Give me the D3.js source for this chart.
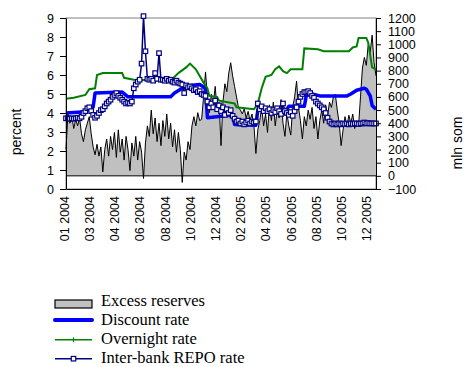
<!DOCTYPE html>
<html>
<head>
<meta charset="utf-8">
<script src="https://cdn.jsdelivr.net/npm/d3@7"></script>
<style>
  body { margin: 0; background: #fff; }
  text { font-family: "Liberation Sans", Arial, sans-serif; }
</style>
</head>
<body>
<div id="chart"></div>
<script>
// category labels shown every 13 points
const xLabels = ["01 2004", "03 2004", "04 2004", "06 2004", "08 2004", "10 2004", "12 2004",
                 "02 2005", "04 2005", "06 2005", "08 2005", "10 2005", "12 2005"];
const labelEvery = 13;

// excess reserves, mln som (right axis), one value per category
const excessReserves = [
  200, 470, 400, 450, 360, 430, 380, 440, 320, 260, 350, 400, 450, 320, 220, 160, 240, 150, 220, 30,
  200, 280, 150, 300, 200, 330, 140, 350, 180, 280, 120, 300, 200, 40, 250, 150, 300, 120, 260, 180,
  -20, 250, 380, 300, 500, 320, 440, 260, 400, 230, 420, 300, 470, 280, 400, 220, 350, 180, 330, 200,
  -50, 180, 120, 260, 200, 380, 450, 380, 480, 420, 430, 600, 790, 600, 480, 620, 540, 680, 500, 560,
  230, 560, 700, 640, 780, 860, 760, 680, 600, 520, 500, 470, 510, 440, 490, 420, 470, 380, 170, 350,
  420, 520, 380, 470, 330, 540, 420, 560, 380, 500, 440, 580, 400, 300, 480, 380, 310, 520, 600, 720,
  520, 420, 280, 450, 380, 500, 430, 520, 360, 450, 280, 420, 500, 400, 540, 460, 560, 520, 600, 620,
  500, 400, 230, 350, 450, 380, 460, 400, 470, 360, 420, 380, 600, 820, 900, 840, 1000, 940, 1070, 860, 760
];

// inter-bank REPO rate, percent, one value per category
const repoRate = [
  3.72, 3.72, 3.7, 3.72, 3.7, 3.72, 3.75, 3.72, 3.8, 4.0, 4.1, 4.25, 4.3, 4.1, 3.9, 3.75, 3.85, 4.0, 4.15, 4.2,
  4.35, 4.5, 4.6, 4.7, 4.85, 4.95, 5.05, 4.9, 4.8, 4.7, 4.6, 4.5, 4.55, 4.5, 4.6, 5.3, 5.5, 5.65, 5.75, 6.6,
  9.1, 7.25, 5.8, 5.75, 5.8, 5.7, 6.1, 5.8, 7.15, 5.75, 5.75, 5.7, 5.8, 5.7, 5.75, 5.65, 5.6, 5.7, 5.6, 5.55,
  5.5, 5.05, 5.45, 5.35, 5.4, 5.3, 5.2, 5.25, 5.1, 5.15, 5.0, 4.95, 4.9, 4.6, 4.3, 4.5, 4.3, 4.65, 4.2, 4.4,
  4.1, 4.3, 3.9, 4.2, 4.0, 4.15, 3.85, 3.7, 3.55, 3.6, 3.45, 3.55, 3.4, 3.5, 3.6, 3.45, 3.55, 3.5, 3.55, 4.5,
  4.2, 4.35, 4.1, 4.25, 4.1, 4.2, 4.0, 4.15, 4.05, 4.25, 4.1, 3.95, 4.5, 4.1, 4.0, 3.9, 4.05, 3.85, 4.1, 4.3,
  4.6, 4.85, 5.0, 5.1, 5.1, 5.15, 5.05, 4.9, 4.8, 4.6, 4.5, 4.4, 4.3, 4.2, 4.0, 3.75, 3.55, 3.45, 3.4, 3.45,
  3.4, 3.45, 3.4, 3.45, 3.42, 3.45, 3.4, 3.45, 3.42, 3.45, 3.45, 3.42, 3.45, 3.45, 3.5, 3.45, 3.47, 3.45, 3.45, 3.45, 3.45
];

// discount rate, percent: [category index, value] where it changes
const discountRate = [
  [0, 4.0], [8, 4.05], [11, 4.15], [14, 4.3], [15, 5.05], [29, 5.1], [32, 4.85], [54, 4.85],
  [56, 5.05], [60, 5.3], [64, 5.45], [69, 5.5], [72, 5.3], [73, 3.75], [86, 3.9], [87, 3.4],
  [98, 3.35], [99, 4.15], [114, 4.2], [115, 4.35], [123, 4.35], [124, 4.9], [127, 5.0], [131, 4.9],
  [145, 4.9], [147, 5.0], [150, 5.2], [154, 5.3], [155, 5.25], [157, 4.9], [158, 4.4], [160, 4.2]
];

// overnight rate, percent: [category index, value]
const overnightRate = [
  [0, 4.75], [4, 4.8], [10, 4.95], [12, 5.25], [15, 5.3], [16, 6.0], [19, 6.1], [29, 6.1],
  [30, 5.85], [35, 5.75], [54, 5.7], [58, 6.1], [62, 6.4], [64, 6.6], [67, 6.3], [71, 5.6],
  [73, 5.3], [74, 4.9], [78, 4.85], [79, 4.65], [87, 4.5], [88, 4.3], [97, 4.2], [99, 4.5],
  [101, 5.3], [103, 5.9], [106, 6.0], [108, 6.3], [110, 6.45], [112, 6.2], [114, 6.1], [116, 6.3],
  [122, 6.3], [123, 7.4], [130, 7.35], [133, 7.25], [146, 7.25], [148, 7.45], [150, 7.5], [151, 7.95],
  [155, 7.95], [156, 7.7], [158, 6.4], [160, 6.3]
];

const legendItems = ["Excess reserves", "Discount rate", "Overnight rate", "Inter-bank REPO rate"];

const width = 464;
const height = 367;
const plotLeft = 66, plotRight = 376, plotTop = 18, plotBottom = 189;

const svg = d3.select("#chart")
    .append("svg")
    .attr("width", width)
    .attr("height", height);

const x = d3.scaleLinear()
    .domain([0, excessReserves.length - 1])
    .range([plotLeft, plotRight]);

const yLeft = d3.scaleLinear()
    .domain([0, 9])
    .range([plotBottom, plotTop]);

const yRight = d3.scaleLinear()
    .domain([-100, 1200])
    .range([plotBottom, plotTop]);

// plot area frame
svg.append("rect")
    .attr("x", plotLeft).attr("y", plotTop)
    .attr("width", plotRight - plotLeft).attr("height", plotBottom - plotTop)
    .attr("fill", "#fff")
    .attr("stroke", "#808080");

// excess reserves area
svg.append("path")
    .datum(excessReserves)
    .attr("d", d3.area().x((d, i) => x(i)).y0(yRight(0)).y1(d => yRight(d)))
    .attr("fill", "#c0c0c0");

svg.append("path")
    .datum(excessReserves)
    .attr("d", d3.line().x((d, i) => x(i)).y(d => yRight(d)))
    .attr("fill", "none")
    .attr("stroke", "#000")
    .attr("stroke-width", 1);

svg.append("line")
    .attr("x1", x(0)).attr("x2", x(excessReserves.length - 1))
    .attr("y1", yRight(0)).attr("y2", yRight(0))
    .attr("stroke", "#000");

// discount rate
svg.append("path")
    .datum(discountRate)
    .attr("d", d3.line().x(d => x(d[0])).y(d => yLeft(d[1])))
    .attr("fill", "none")
    .attr("stroke", "#0000ff")
    .attr("stroke-width", 3.5)
    .attr("stroke-linejoin", "round");

// overnight rate
svg.append("path")
    .datum(overnightRate)
    .attr("d", d3.line().x(d => x(d[0])).y(d => yLeft(d[1])))
    .attr("fill", "none")
    .attr("stroke", "#008000")
    .attr("stroke-width", 2);

// REPO rate
svg.append("path")
    .datum(repoRate)
    .attr("d", d3.line().x((d, i) => x(i)).y(d => yLeft(d)))
    .attr("fill", "none")
    .attr("stroke", "#000080")
    .attr("stroke-width", 1.5);

svg.selectAll(".repo")
    .data(repoRate)
    .enter()
    .append("rect")
    .attr("class", "repo")
    .attr("x", (d, i) => x(i) - 2.25)
    .attr("y", d => yLeft(d) - 2.25)
    .attr("width", 4.5).attr("height", 4.5)
    .attr("fill", "#fff")
    .attr("stroke", "#000080")
    .attr("stroke-width", 1.2);

// left axis
const gLeft = svg.append("g")
    .attr("transform", `translate(${plotLeft},0)`)
    .call(d3.axisLeft(yLeft)
        .tickValues(d3.range(0, 10))
        .tickSize(6).tickSizeOuter(0).tickPadding(6)
        .tickFormat(d3.format("d")));

// right axis
const gRight = svg.append("g")
    .attr("transform", `translate(${plotRight},0)`)
    .call(d3.axisRight(yRight)
        .tickValues(d3.range(-100, 1201, 100))
        .tickSize(5).tickSizeOuter(0).tickPadding(7)
        .tickFormat(d3.format("d")));

// category axis
const gBottom = svg.append("g")
    .attr("transform", `translate(0,${plotBottom})`)
    .call(d3.axisBottom(x)
        .tickValues(d3.range(0, excessReserves.length, labelEvery))
        .tickSize(0).tickSizeOuter(0)
        .tickFormat((d, i) => xLabels[i]));

gBottom.selectAll("text")
    .attr("transform", "rotate(-90)")
    .attr("text-anchor", "end")
    .attr("x", -7)
    .attr("y", -2)
    .attr("dy", "0.35em");

[gLeft, gRight, gBottom].forEach(g => {
    g.selectAll("text").style("font-size", "12.5px").attr("fill", "#000");
    g.selectAll("line, path").attr("stroke", "#000");
});

// axis titles
svg.append("text")
    .attr("transform", "translate(16,132) rotate(-90)")
    .attr("text-anchor", "middle")
    .attr("dy", "0.35em")
    .style("font-size", "14px")
    .text("percent");

svg.append("text")
    .attr("transform", "translate(457,143) rotate(-90)")
    .attr("text-anchor", "middle")
    .attr("dy", "0.35em")
    .style("font-size", "14px")
    .text("mln som");

// legend
const legend = svg.selectAll(".legend")
    .data(legendItems)
    .enter()
    .append("g")
    .attr("class", "legend")
    .attr("transform", (d, i) => `translate(0, ${304 + i * 18.9})`);

legend.append("text")
    .attr("x", 101)
    .attr("y", 2)
    .style("font-family", "'Liberation Serif', 'Times New Roman', serif")
    .style("font-size", "16.5px")
    .text(d => d);

legend.filter((d, i) => i === 0).append("rect")
    .attr("x", 55).attr("y", -4)
    .attr("width", 37).attr("height", 8)
    .attr("fill", "#c0c0c0").attr("stroke", "#000").attr("stroke-width", 1.2);

legend.filter((d, i) => i === 1).append("line")
    .attr("x1", 55).attr("x2", 92).attr("y1", -3).attr("y2", -3)
    .attr("stroke", "#0000ff").attr("stroke-width", 4).attr("stroke-linecap", "round");

const lgOvernight = legend.filter((d, i) => i === 2);
lgOvernight.append("line")
    .attr("x1", 55).attr("x2", 92).attr("y1", -2).attr("y2", -2)
    .attr("stroke", "#008000").attr("stroke-width", 1.5);
lgOvernight.append("line")
    .attr("x1", 73.5).attr("x2", 73.5).attr("y1", -4.5).attr("y2", 0.5)
    .attr("stroke", "#008000").attr("stroke-width", 1.2);

const lgRepo = legend.filter((d, i) => i === 3);
lgRepo.append("line")
    .attr("x1", 55).attr("x2", 92).attr("y1", -2).attr("y2", -2)
    .attr("stroke", "#000080").attr("stroke-width", 1.5);
lgRepo.append("rect")
    .attr("x", 71.25).attr("y", -4.25).attr("width", 4.5).attr("height", 4.5)
    .attr("fill", "#fff").attr("stroke", "#000080").attr("stroke-width", 1.2);
</script>
</body>
</html>
